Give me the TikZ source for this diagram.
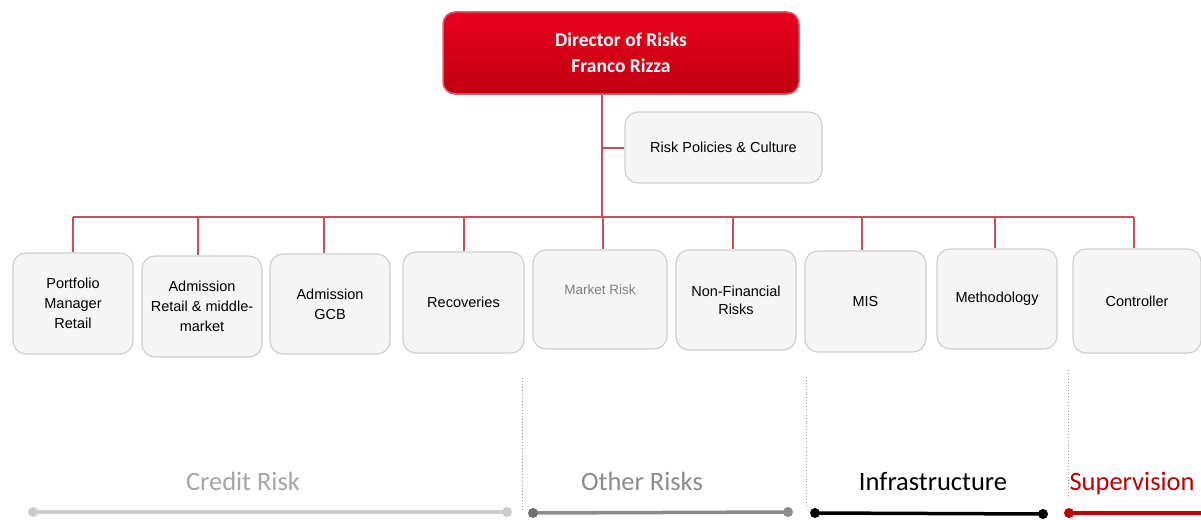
\documentclass[tikz,border=0pt]{standalone}
\usepackage{fontspec}
\setmainfont{Liberation Sans}
\newfontfamily\calfont{Carlito}
\usetikzlibrary{calc}
\definecolor{linkred}{HTML}{C8505A}
\definecolor{boxfill}{HTML}{F5F5F5}
\definecolor{boxline}{HTML}{CFCFCF}
\definecolor{dirtop}{HTML}{E8001C}
\definecolor{dirbot}{HTML}{C00010}
\definecolor{dirline}{HTML}{E06070}
\definecolor{supred}{HTML}{C00000}
\definecolor{credgray}{HTML}{A6A6A6}
\definecolor{othgray}{HTML}{8C8C8C}
\tikzset{
  unitbox/.style={draw=boxline, fill=boxfill, rounded corners=13pt, line width=1.2pt,
    align=center, font=\fontsize{14.5}{20}\selectfont, inner sep=2pt},
  dirbox/.style={draw=dirline, top color=dirtop, bottom color=dirbot, rounded corners=12pt,
    line width=1.5pt, align=center, text=white, font=\calfont\bfseries\fontsize{19.5}{26}\selectfont},
  link/.style={draw=linkred, line width=2pt},
  sep/.style={draw=gray!70, dotted, line width=0.9pt},
  grplabel/.style={font=\calfont\fontsize{26.5}{30}\selectfont, anchor=base},
  grpline/.style={line width=3.5pt, line cap=round},
}
\begin{document}
\begin{tikzpicture}[x=1pt,y=-1pt]
\useasboundingbox (0,0) rectangle (1201,519);
\fill[white] (0,0) rectangle (1201,519);

% director
\node[dirbox, minimum width=356pt, minimum height=82pt] (dir) at (621,53) {Director of Risks\\Franco Rizza};
\node[unitbox, minimum width=197pt, minimum height=71pt] (pol) at (723.5,147.5) {Risk Policies \& Culture};

% boxes
\node[unitbox, minimum width=120pt, minimum height=101pt] (pm) at (73,303.5) {Portfolio\\Manager\\Retail};
\node[unitbox, minimum width=120pt, minimum height=101pt] (ar) at (202,306.5) {Admission\\Retail \& middle-\\market};
\node[unitbox, minimum width=120pt, minimum height=100pt] (ag) at (330,304) {Admission\\GCB};
\node[unitbox, minimum width=121pt, minimum height=101pt] (rec) at (463.5,302.5) {Recoveries};
\node[unitbox, minimum width=134pt, minimum height=99pt] (mr) at (600,299.5) {};
\node[font=\fontsize{13.5}{15}\selectfont, text=gray] (mrt) at (600,290) {Market Risk};
\node[unitbox, minimum width=120pt, minimum height=100pt, font=\fontsize{14.5}{18}\selectfont] (nf) at (736,300) {Non-Financial\\Risks};
\node[unitbox, minimum width=121pt, minimum height=101pt] (mis) at (865.5,301.5) {MIS};
\node[unitbox, minimum width=120pt, minimum height=100pt] (meth) at (997,299) {Methodology};
\node[unitbox, minimum width=128pt, minimum height=104pt] (ctl) at (1137,301) {Controller};

% connectors
\coordinate (busmid) at (602,217);
\coordinate (busL) at (73,217);
\coordinate (busR) at (1134,217);
\draw[link] (dir.south -| busmid) -- (busmid);
\draw[link] (pol.west |- 0,147.5) -- (602,147.5);
\draw[link] (busL) -- (busR);
\foreach \n/\x in {pm/73, ar/198, ag/324, rec/464, mr/603, nf/733, mis/862, meth/995, ctl/1134}{
  \draw[link] (\x,217) -- (\n.north -| \x,0);
}

% separators
\coordinate (s1t) at (522,378); \coordinate (s1b) at (522,510);
\coordinate (s2t) at (806,377); \coordinate (s2b) at (806,505);
\coordinate (s3t) at (1068,370); \coordinate (s3b) at (1068,500);
\draw[sep] (s1t) -- (s1b);
\draw[sep] (s2t) -- (s2b);
\draw[sep] (s3t) -- (s3b);

% group labels
\node[grplabel, text=credgray] (cr) at (243,490) {Credit Risk};
\node[grplabel, text=othgray] (or) at (642,490) {Other Risks};
\node[grplabel, text=black] (inf) at (933,490) {Infrastructure};
\node[grplabel, text=supred, anchor=base west] (sup) at (1066,490) {Supervision};

% group lines
\coordinate (c1) at (33,512); \coordinate (c2) at (507,512);
\coordinate (o1) at (533,513); \coordinate (o2) at (788,512);
\coordinate (i1) at (815,513); \coordinate (i2) at (1043,514);
\coordinate (u1) at (1069,513); \coordinate (u2) at (1205,513);
\draw[grpline, draw=gray!40] (c1) -- (c2);
\fill[gray!40] (c1) circle (5) (c2) circle (5);
\draw[grpline, draw=othgray] (o1) -- (o2);
\fill[othgray!80!black] (o1) circle (5);
\fill[othgray] (o2) circle (5);
\draw[grpline, draw=black] (i1) -- (i2);
\fill[black] (i1) circle (5) (i2) circle (5);
\draw[grpline, draw=supred] (u1) -- (u2);
\fill[supred] (u1) circle (5);
\end{tikzpicture}
\end{document}
